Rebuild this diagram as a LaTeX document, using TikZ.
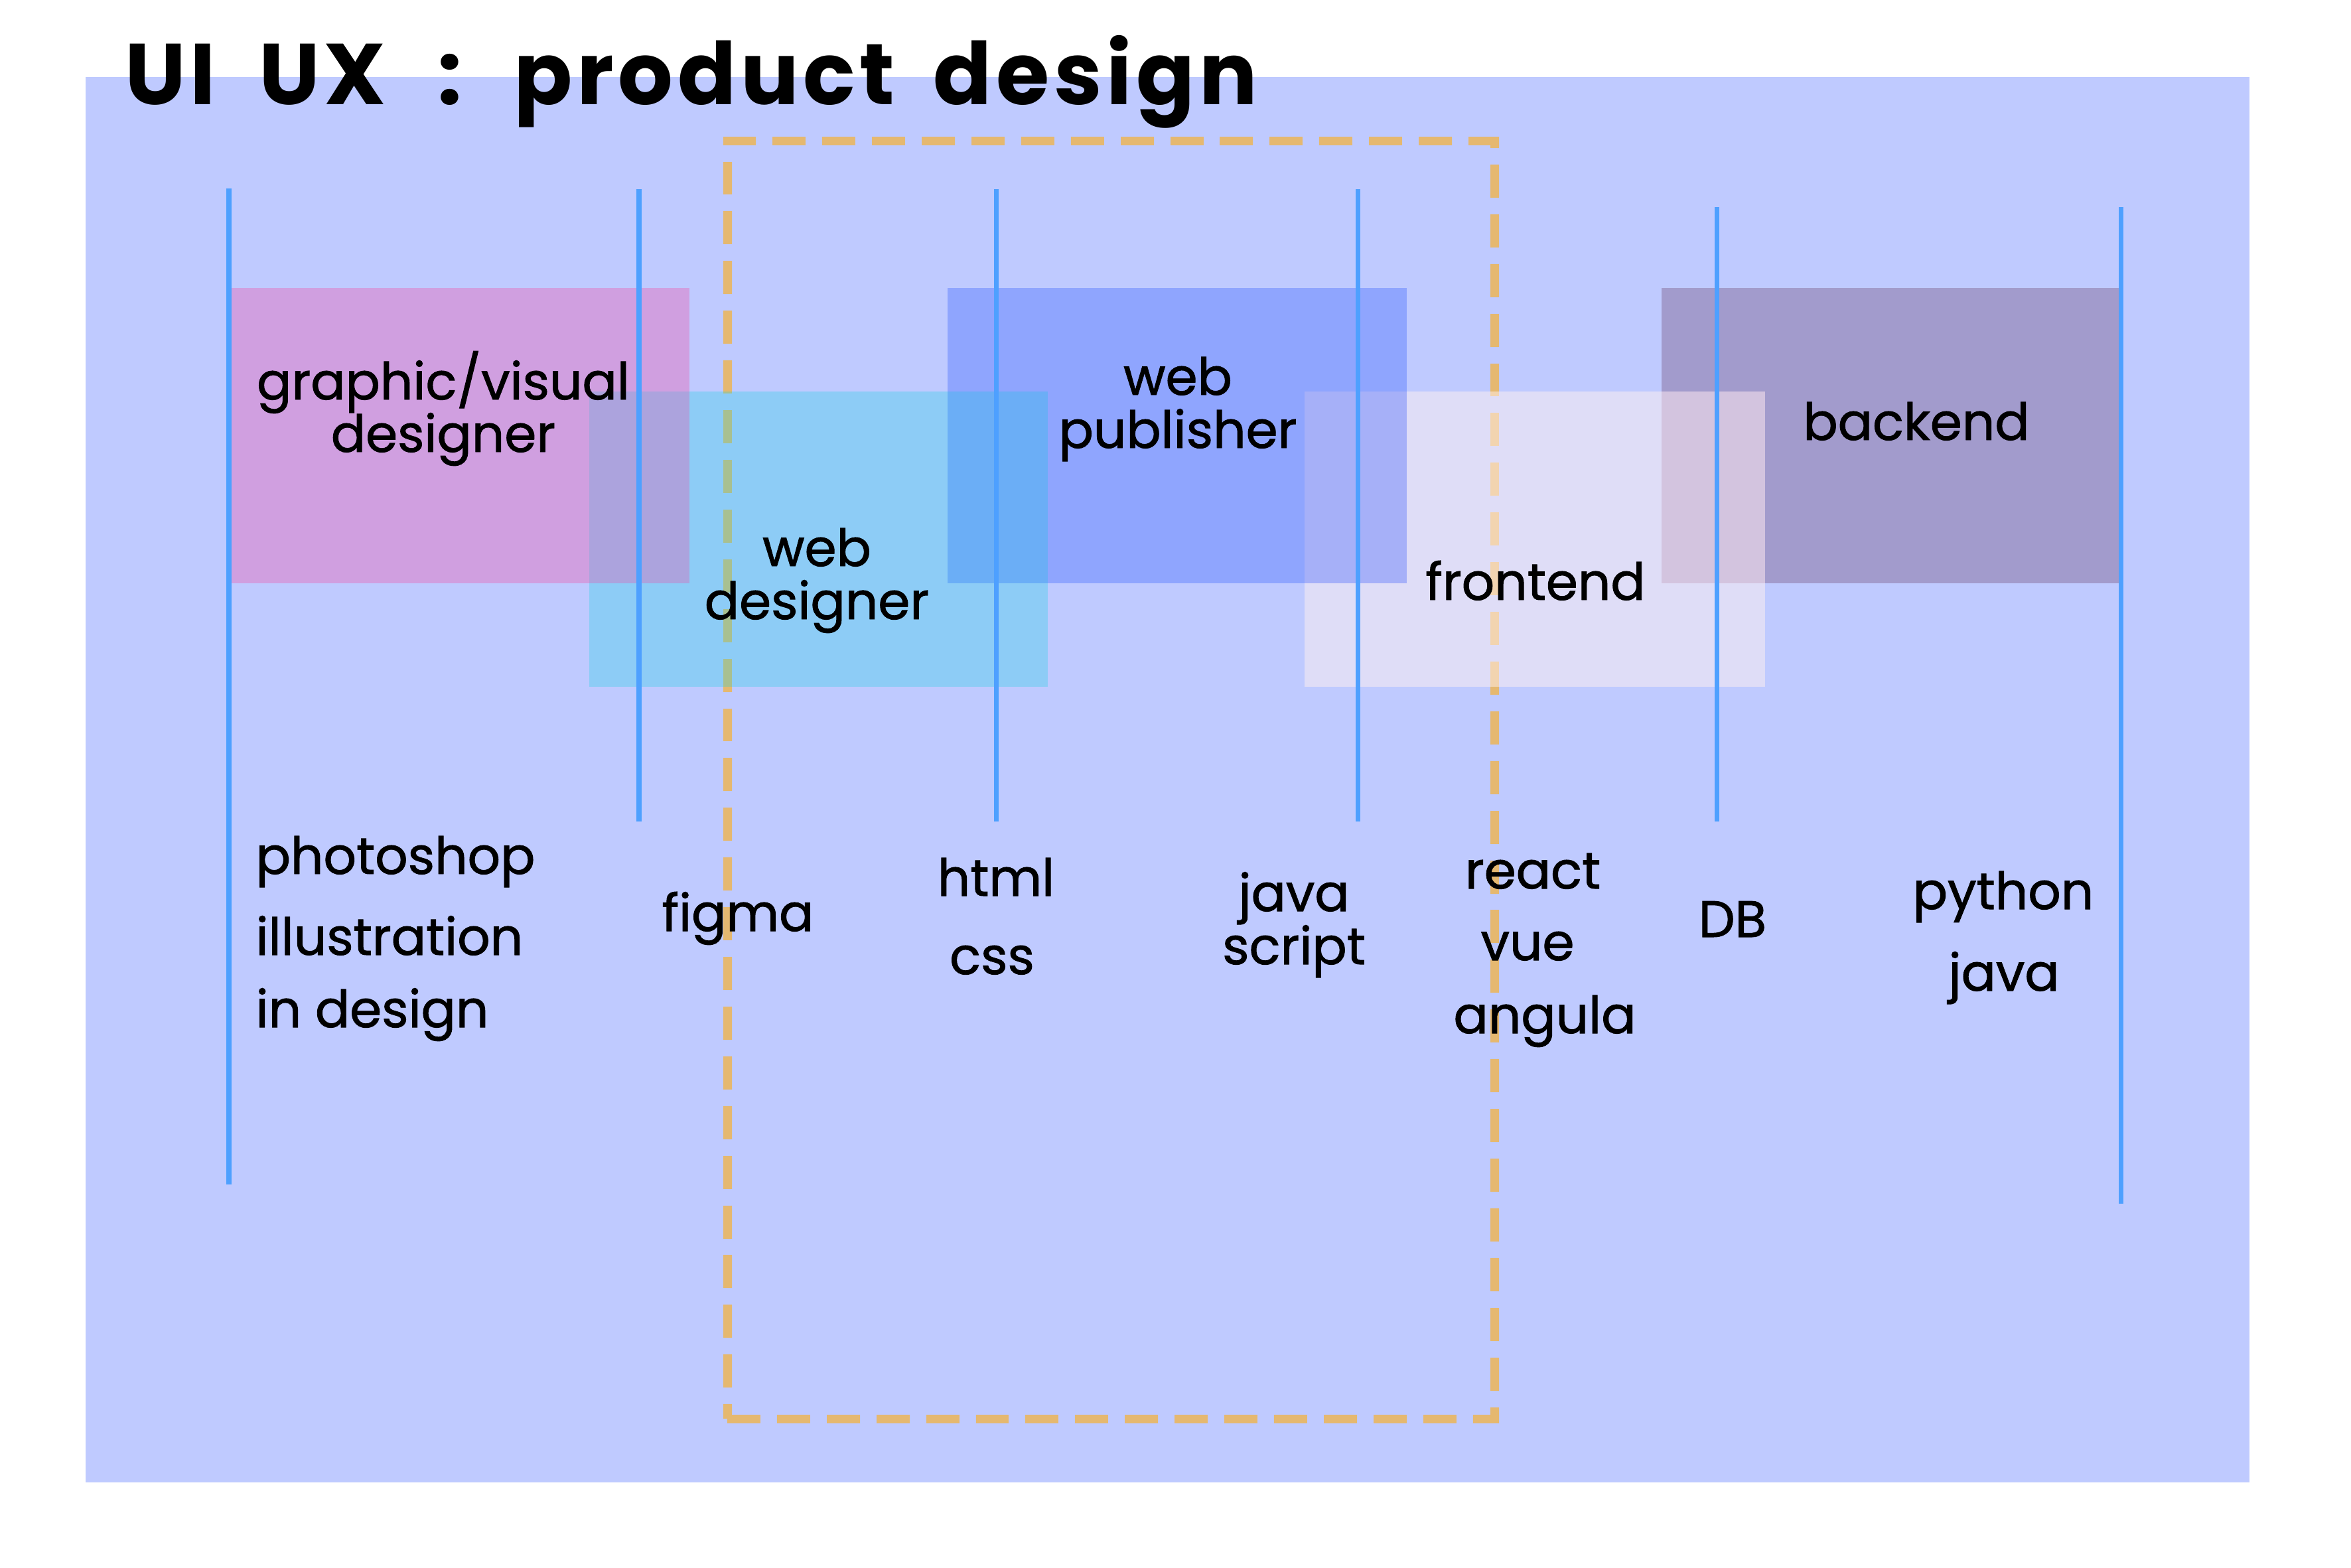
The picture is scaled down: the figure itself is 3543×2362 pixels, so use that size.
\documentclass[tikz,border=0pt]{standalone}
\usepackage{fontspec}
\setmainfont{Poppins}[RawFeature={embolden=1.2}]
\newfontfamily\titlefont{Poppins}[LetterSpace=5]
\usetikzlibrary{fit}
\definecolor{bgc}{RGB}{191,202,255}
\definecolor{magc}{RGB}{208,159,224}
\definecolor{cyanc}{RGB}{22,212,227}
\definecolor{pubc}{RGB}{143,165,254}
\definecolor{frontc}{RGB}{255,240,241}
\definecolor{backc}{RGB}{162,155,204}
\definecolor{ovgc}{RGB}{172,163,221}
\definecolor{ovcp}{RGB}{107,174,246}
\definecolor{ovpf}{RGB}{166,176,248}
\definecolor{ovfb}{RGB}{211,196,223}
\definecolor{linec}{RGB}{78,160,255}
\definecolor{dashc}{RGB}{229,184,112}
\tikzset{
  box/.style={inner sep=0pt, outer sep=0pt, draw=none},
  vline/.style={draw=linec, line width=2pt},
  dashbox/.style={draw=dashc, line width=3.7pt, dash pattern=on 14.2pt off 7.1pt},
  lbl/.style={font=\fontsize{22}{26}\selectfont, anchor=base, inner sep=0pt, text=black},
  lbll/.style={lbl, anchor=base west},
}
\begin{document}
\begin{tikzpicture}[x=0.01cm,y=-0.01cm]
\useasboundingbox (0,0) rectangle (3543,2362);
\fill[white] (0,0) rectangle (3543,2362);
% background panel
\node[box, fill=bgc, fit={(129,116)(3390,2234)}] (panel) {};
% dashed frame
\node[box, dashbox, fit={(1096,212)(2252,2138)}] (frame) {};
% role boxes
\node[box, fill=magc, fit={(346,434)(1039,879)}] (graphic) {};
\node[box, fill=pubc, fit={(1428,434)(2120,879)}] (publisher) {};
\node[box, fill=backc, fit={(2504,434)(3195,879)}] (backend) {};
\node[box, fill=cyanc, fill opacity=0.29, fit={(888,590)(1579,1035)}] (webdes) {};
\node[box, fill=frontc, fill opacity=0.5, fit={(1966,590)(2660,1035)}] (frontend) {};
% overlaps
\fill[ovgc] (webdes.north west) rectangle (graphic.south east);
\fill[ovcp] (publisher.north west |- webdes.north) rectangle (webdes.east |- publisher.south);
\fill[ovpf] (frontend.north west) rectangle (publisher.south east);
\fill[ovfb] (backend.west |- frontend.north) rectangle (frontend.east |- backend.south);
% vertical lines
\coordinate (l1t) at (345,284); \coordinate (l1b) at (345,1785);
\coordinate (l2t) at (963,285); \coordinate (l2b) at (963,1238);
\coordinate (l3t) at (1501,285); \coordinate (l3b) at (1501,1238);
\coordinate (l4t) at (2046,285); \coordinate (l4b) at (2046,1238);
\coordinate (l5t) at (2587,312); \coordinate (l5b) at (2587,1238);
\coordinate (l6t) at (3196,312); \coordinate (l6b) at (3196,1814);
\foreach \i in {1,...,6} \draw[vline] (l\i t) -- (l\i b);
% title
\node[anchor=base west, inner sep=0pt, font=\titlefont\bfseries\fontsize{37}{44}\selectfont] (title) at (188,157) {UI\hspace{0.5em}UX\hspace{0.6em}:\hspace{0.6em}product\hspace{0.45em}design};
% box labels
\node[lbl] (gd1) at (668,602) {graphic/visual};
\node[lbl] (gd2) at (668,681) {designer};
\node[lbl] (wd1) at (1231,853) {web};
\node[lbl] (wd2) at (1231,933) {designer};
\node[lbl] (wp1) at (1775,595) {web};
\node[lbl] (wp2) at (1775,675) {publisher};
\node[lbl] (be) at (2888,663) {backend};
\node[lbl] (fe) at (2314,904) {frontend};
% tools
\node[lbll] (t1) at (385,1317) {photoshop};
\node[lbll] (t2) at (385,1439) {illustration};
\node[lbll] (t3) at (385,1548) {in design};
\node[lbl] (t4) at (1112,1403) {figma};
\node[lbl] (t5) at (1501,1350) {html};
\node[lbl] (t6) at (1495,1468) {css};
\node[lbl] (t7) at (1950,1373) {java};
\node[lbl] (t8) at (1950,1453) {script};
\node[lbl] (t9) at (2310,1339) {react};
\node[lbl] (t10) at (2302,1447) {vue};
\node[lbl] (t11) at (2328,1557) {angula};
\node[lbl] (t12) at (2611,1412) {DB};
\node[lbl] (t13) at (3019,1370) {python};
\node[lbl] (t14) at (3020,1493) {java};
\end{tikzpicture}
\end{document}
